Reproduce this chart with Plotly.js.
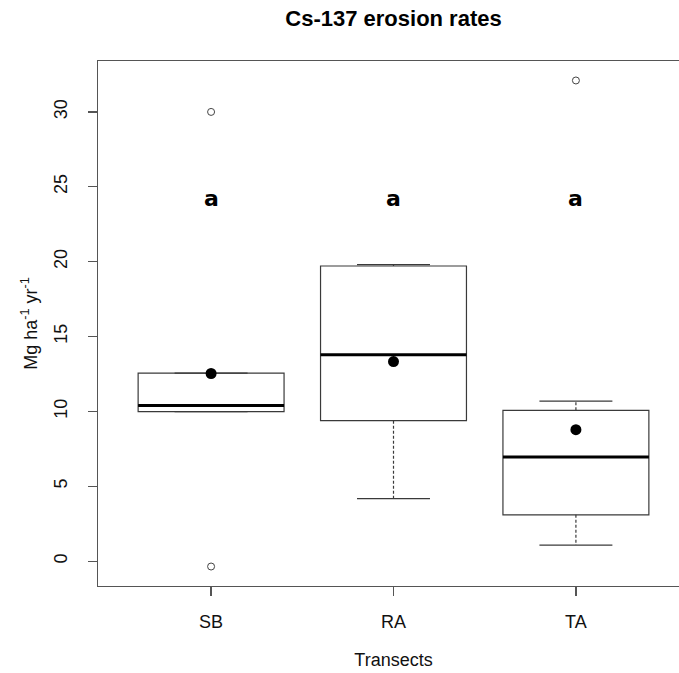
<!DOCTYPE html>
<html>
<head>
<meta charset="utf-8">
<script src="https://cdn.plot.ly/plotly-3.0.1.min.js"></script>
<style>
html, body { margin: 0; padding: 0; overflow: hidden; background: #fff; }
#chart { width: 700px; height: 673px; }
</style>
</head>
<body>
<div id="chart"></div>
<script>
// ---- data ----
const categories = ['SB', 'RA', 'TA'];
const q1Values = [9.98, 9.38, 3.09];
const medianValues = [10.4, 13.78, 6.96];
const q3Values = [12.56, 19.71, 10.07];
const lowerWhisker = [9.98, 4.18, 1.07];
const upperWhisker = [12.56, 19.8, 10.69];
const meanValues = [12.53, 13.33, 8.78];
const outlierGroups = ['SB', 'SB', 'TA'];
const outlierValues = [30.0, -0.36, 32.1];
const letterLabels = ['a', 'a', 'a'];
const letterValues = [24.2, 24.2, 24.2];
const yTickValues = [0, 5, 10, 15, 20, 25, 30];

// ---- style constants ----
const BOX_W = 0.8;
const CAP_W = 0.4;
const LINE_C = '#3a3a3a';
const FONT = '"Liberation Sans", Arial, sans-serif';

const pos = categories.map((c, i) => i + 1);
const traces = [];

categories.forEach((cat, i) => {
  const c = pos[i];
  // box body (whiskers drawn separately as dashed lines)
  traces.push({
    type: 'box', name: cat, x: [c], q1: [q1Values[i]], median: [medianValues[i]], q3: [q3Values[i]],
    lowerfence: [q1Values[i]], upperfence: [q3Values[i]],
    width: BOX_W, whiskerwidth: 0, boxpoints: false,
    fillcolor: 'rgba(255,255,255,0)', line: { color: LINE_C, width: 1.2 },
    showlegend: false, hoverinfo: 'skip'
  });
  // median (thick)
  traces.push({
    type: 'scatter', mode: 'lines', x: [c - BOX_W / 2, c + BOX_W / 2], y: [medianValues[i], medianValues[i]],
    line: { color: '#000', width: 3 }, showlegend: false, hoverinfo: 'skip'
  });
  // dashed whiskers
  traces.push({
    type: 'scatter', mode: 'lines', x: [c, c, null, c, c],
    y: [q3Values[i], upperWhisker[i], null, q1Values[i], lowerWhisker[i]],
    line: { color: LINE_C, width: 1.2, dash: '3px,2px' }, showlegend: false, hoverinfo: 'skip'
  });
  // whisker caps
  traces.push({
    type: 'scatter', mode: 'lines',
    x: [c - CAP_W / 2, c + CAP_W / 2, null, c - CAP_W / 2, c + CAP_W / 2],
    y: [upperWhisker[i], upperWhisker[i], null, lowerWhisker[i], lowerWhisker[i]],
    line: { color: LINE_C, width: 1.2 }, showlegend: false, hoverinfo: 'skip'
  });
});

// outliers
traces.push({
  type: 'scatter', mode: 'markers',
  x: outlierGroups.map(g => categories.indexOf(g) + 1), y: outlierValues,
  marker: { symbol: 'circle-open', size: 7, color: '#444', line: { width: 1, color: '#444' } },
  showlegend: false
});
// means
traces.push({
  type: 'scatter', mode: 'markers', x: pos, y: meanValues,
  marker: { symbol: 'circle', size: 11, color: '#000' }, showlegend: false
});

// significance letters as annotations
const annotations = letterLabels.map((t, i) => ({
  x: pos[i], y: letterValues[i], xref: 'x', yref: 'y', text: t, showarrow: false,
  xanchor: 'center', yanchor: 'middle',
  font: { family: '"DejaVu Sans", Verdana, sans-serif', size: 22, color: '#000', weight: 'bold' }
}));

const layout = {
  width: 700, height: 673,
  margin: { l: 98, r: 11, t: 61, b: 87 },
  paper_bgcolor: '#fff', plot_bgcolor: '#fff',
  font: { family: FONT, size: 18, color: '#111' },
  boxmode: 'overlay',
  showlegend: false,
  annotations: annotations,
  title: {
    text: 'Cs-137 erosion rates',
    font: { family: FONT, size: 22, color: '#000', weight: 'bold' },
    x: 0.5, xref: 'paper', y: 1 - 18 / 673, yref: 'container', yanchor: 'middle'
  },
  xaxis: {
    range: [0.38, 3.62], tickvals: pos, ticktext: categories,
    showgrid: false, zeroline: false,
    showline: true, mirror: true, linecolor: '#555', linewidth: 1.2,
    ticks: 'outside', ticklen: 9, tickcolor: '#555', tickwidth: 1.2,
    ticklabelstandoff: 10,
    tickfont: { family: FONT, size: 18, color: '#111' },
    title: { text: 'Transects', font: { family: FONT, size: 18, color: '#111' }, standoff: 22 }
  },
  yaxis: {
    range: [-1.66, 33.4], tickvals: yTickValues, ticktext: yTickValues.map(String),
    showgrid: false, zeroline: false,
    showline: true, mirror: true, linecolor: '#555', linewidth: 1.2,
    ticks: 'outside', ticklen: 9, tickcolor: '#555', tickwidth: 1.2,
    tickangle: -90, ticklabelstandoff: 14,
    tickfont: { family: FONT, size: 18, color: '#111' },
    title: { text: 'Mg ha<sup>-1</sup> yr<sup>-1</sup>', font: { family: FONT, size: 18, color: '#111' }, standoff: 8 }
  }
};

Plotly.newPlot('chart', traces, layout, { displayModeBar: false, staticPlot: true });
</script>
</body>
</html>
